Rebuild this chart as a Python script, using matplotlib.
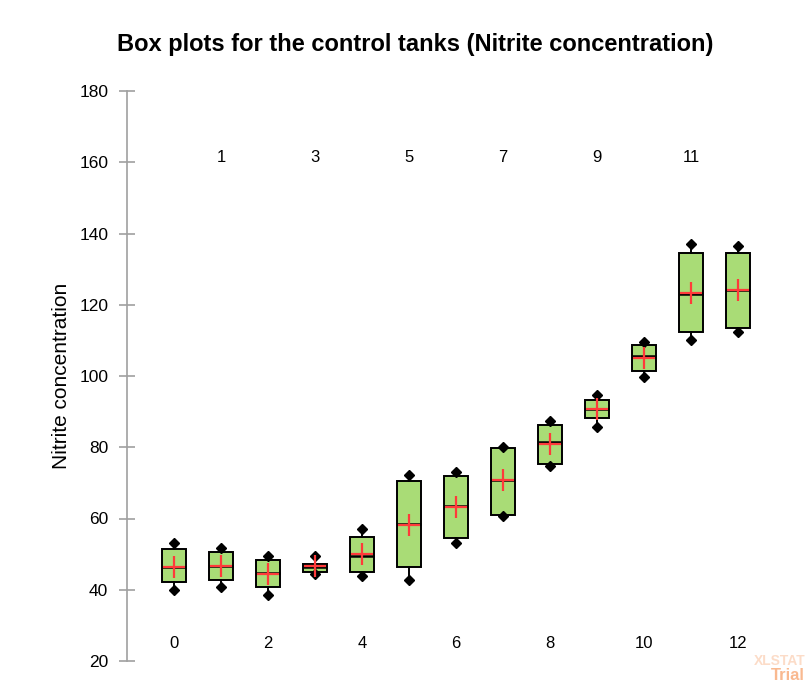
import matplotlib
matplotlib.use("Agg")
import matplotlib.pyplot as plt

categories = [0, 1, 2, 3, 4, 5, 6, 7, 8, 9, 10, 11, 12]
minimum = [40.0, 40.9, 38.6, 44.5, 43.9, 42.7, 53.2, 60.7, 74.7, 85.8, 99.8, 110.1, 112.4]
q1 = [42.2, 42.7, 40.8, 45.0, 45.0, 46.5, 54.5, 61.1, 75.2, 88.3, 101.4, 112.4, 113.4]
median = [46.5, 46.8, 44.6, 46.5, 49.6, 58.5, 63.5, 70.8, 81.4, 90.7, 105.6, 123.1, 124.1]
mean = [46.5, 46.8, 44.5, 46.6, 50.0, 58.3, 63.3, 70.8, 81.0, 90.7, 105.1, 123.4, 124.2]
q3 = [51.4, 50.7, 48.3, 47.2, 54.9, 70.6, 71.9, 79.9, 86.2, 93.4, 108.8, 134.4, 134.6]
maximum = [53.0, 51.8, 49.6, 49.5, 57.1, 72.3, 73.0, 80.2, 87.3, 94.7, 109.5, 137.1, 136.6]
y_ticks = [20, 40, 60, 80, 100, 120, 140, 160, 180]

title = "Box plots for the control tanks (Nitrite concentration)"
ylabel = "Nitrite concentration"

fig = plt.figure(figsize=(8.08, 6.85), dpi=100)
ax = fig.add_axes([127/808, 24/685, 1 - 127/808, (661-91)/685])

stats = []
for i in range(len(categories)):
    stats.append(dict(med=median[i], q1=q1[i], q3=q3[i], whislo=minimum[i],
                      whishi=maximum[i], mean=mean[i], fliers=[]))

ax.bxp(stats, positions=categories, widths=0.53, patch_artist=True,
       showmeans=True, showcaps=False, showfliers=False,
       boxprops=dict(facecolor="#A9DC76", edgecolor="black", linewidth=1.4),
       medianprops=dict(color="black", linewidth=1.8),
       whiskerprops=dict(color="black", linewidth=1.4),
       meanprops=dict(marker="+", markeredgecolor="#FF3A3A", markersize=16,
                      markeredgewidth=1.6))

ax.plot(categories, minimum, linestyle="none", marker="D", color="black", markersize=5.5)
ax.plot(categories, maximum, linestyle="none", marker="D", color="black", markersize=5.5)

# category labels: even at bottom, odd at top
for c in categories:
    yv = 24.9 if c % 2 == 0 else 161.2
    ax.text(c, yv, str(c), ha="center", va="center", fontsize=12,
            family="Liberation Sans", color="black")

ax.set_xlim(-1, 13.49)
ax.set_ylim(20, 180)
ax.set_yticks(y_ticks)
ax.set_xticks([])
for s in ["top", "right", "bottom"]:
    ax.spines[s].set_visible(False)
ax.spines["left"].set_color("#A0A0A0")
ax.spines["left"].set_linewidth(1.2)
ax.tick_params(axis="y", direction="inout", length=11, width=1.2, color="#A0A0A0",
               labelsize=12.5, pad=8)
for lab in ax.get_yticklabels():
    lab.set_family("Liberation Sans")

ax.set_ylabel(ylabel, fontsize=15, family="Liberation Sans", labelpad=6)
fig.text(415/808, 1 - 45/685, title, ha="center", va="center", fontsize=17,
         fontweight="bold", family="Liberation Sans")

fig.text(805/808, 1 - 661/685, "XLSTAT", ha="right", va="center", fontsize=10,
         fontweight="bold", color="#FCDCC8", family="Liberation Sans")
fig.text(805/808, 1 - 676/685, "Trial", ha="right", va="center", fontsize=12,
         fontweight="bold", color="#F9B990", family="Liberation Sans")

fig.savefig("out.png", dpi=100)
